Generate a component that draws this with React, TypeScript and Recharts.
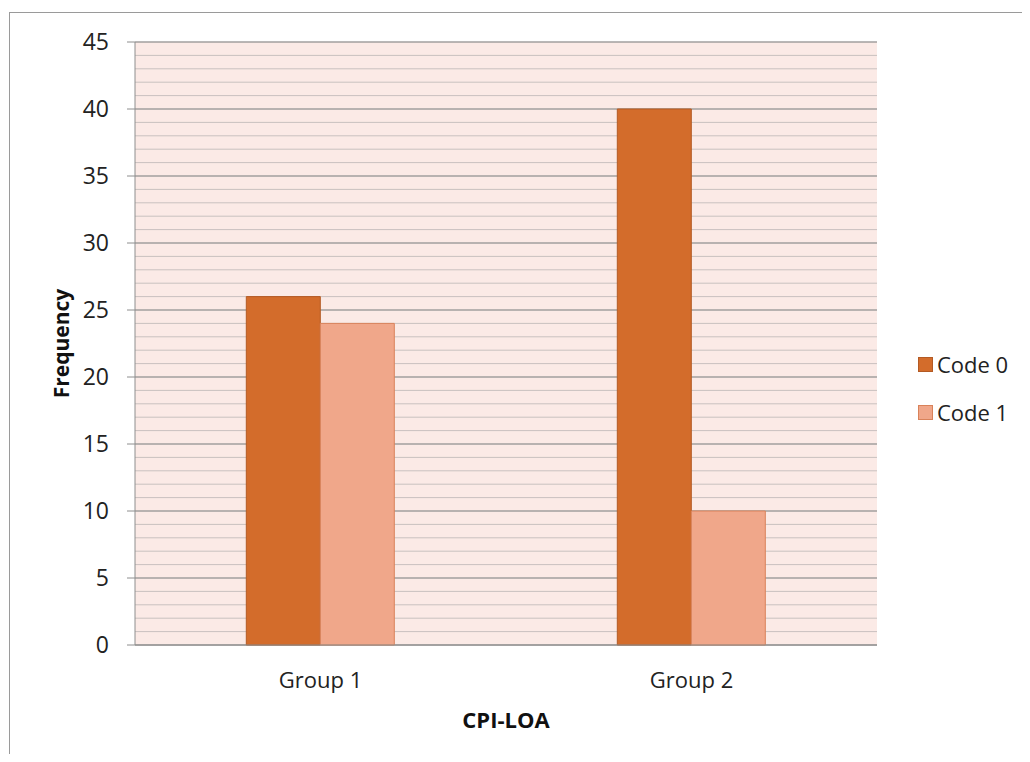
import React from "react";
import {
  BarChart,
  Bar,
  XAxis,
  YAxis,
  CartesianGrid,
} from "recharts";

const groups = ["Group 1", "Group 2"];
const code0 = [26, 40];
const code1 = [24, 10];
const majorTicks = [0, 5, 10, 15, 20, 25, 30, 35, 40, 45];
const minorTicks = Array.from({ length: 46 }, (_, i) => i);

const data = groups.map((g, i) => ({ name: g, code0: code0[i], code1: code1[i] }));

const FONT = "'Open Sans', 'DejaVu Sans', sans-serif";
const C0 = "#D36C2B";
const C1 = "#F0A78A";

const legendItems = [
  { label: "Code 0", fill: C0, stroke: "#B35A24" },
  { label: "Code 1", fill: C1, stroke: "#D9825A" },
];

const LegendBox = () => (
  <div
    style={{
      position: "absolute",
      left: 910,
      top: 342,
      fontFamily: FONT,
      fontSize: 22,
      color: "#222",
    }}
  >
    {legendItems.map((it, i) => (
      <div
        key={it.label}
        style={{ display: "flex", alignItems: "center", height: 28, marginBottom: i === 0 ? 20 : 0 }}
      >
        <span
          style={{
            display: "inline-block",
            width: 13,
            height: 13,
            background: it.fill,
            border: `1px solid ${it.stroke}`,
            marginRight: 4,
          }}
        />
        {it.label}
      </div>
    ))}
  </div>
);

const App = () => {
  return (
    <div style={{ position: "relative", width: 1014, height: 746, overflow: "hidden" }}>
      <div
        style={{
          position: "absolute",
          left: 1,
          top: 4,
          width: 2000,
          height: 2000,
          borderLeft: "1px solid #9a9a9a",
          borderTop: "1px solid #9a9a9a",
        }}
      />
      <BarChart
        width={1014}
        height={746}
        data={data}
        margin={{ top: 34, right: 145, bottom: 9, left: 0 }}
        barCategoryGap="30%"
        barGap={0}
      >
        <CartesianGrid
          vertical={false}
          horizontalValues={minorTicks}
          stroke="#C9C1BF"
          fill="#FBEAE6"
          fillOpacity={1}
        />
        <CartesianGrid vertical={false} horizontalValues={majorTicks} stroke="#8E8E8E" />
        <XAxis
          dataKey="name"
          height={100}
          tickLine={false}
          tickSize={0}
          tickMargin={27}
          axisLine={{ stroke: "#8E8E8E" }}
          tick={{ fill: "#222", fontSize: 22, fontFamily: FONT }}
          label={{
            content: (props: any) => {
              const vb = props.viewBox;
              return (
                <text
                  x={vb.x + vb.width / 2}
                  y={vb.y + 83}
                  textAnchor="middle"
                  fontFamily={FONT}
                  fontWeight="bold"
                  fontSize={22}
                  fill="#111"
                >
                  CPI-LOA
                </text>
              );
            },
          }}
        />
        <YAxis
          width={127}
          domain={[0, 45]}
          ticks={majorTicks}
          interval={0}
          tickSize={8}
          tickMargin={18}
          tickLine={{ stroke: "#8E8E8E" }}
          axisLine={{ stroke: "#8E8E8E" }}
          tick={{ fill: "#222", fontSize: 23, fontFamily: FONT }}
          label={{
            content: (props: any) => {
              const vb = props.viewBox;
              const cx = vb.x + 53;
              const cy = vb.y + vb.height / 2;
              return (
                <text
                  x={cx}
                  y={cy}
                  transform={`rotate(-90 ${cx} ${cy})`}
                  textAnchor="middle"
                  dominantBaseline="central"
                  fontFamily={FONT}
                  fontWeight="bold"
                  fontSize={21}
                  fill="#111"
                >
                  Frequency
                </text>
              );
            },
          }}
        />
        <Bar dataKey="code0" name="Code 0" fill={C0} stroke="#B35A24" isAnimationActive={false} />
        <Bar dataKey="code1" name="Code 1" fill={C1} stroke="#D9825A" isAnimationActive={false} />
      </BarChart>
      <LegendBox />
    </div>
  );
};

export default App;
